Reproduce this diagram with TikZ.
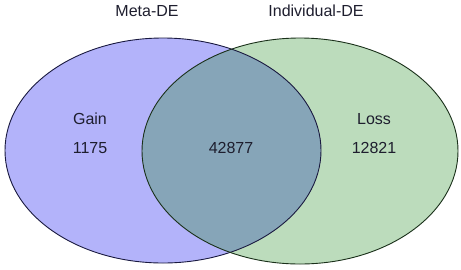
\documentclass[tikz,border=0pt]{standalone}
\usepackage{fontspec}
\setmainfont{Liberation Sans}
\definecolor{leftfill}{HTML}{B3B3FA}
\definecolor{rightfill}{HTML}{BCDCBC}
\definecolor{midfill}{HTML}{86A5B8}
\definecolor{leftline}{HTML}{1A1A40}
\definecolor{rightline}{HTML}{1A301A}
\definecolor{txt}{HTML}{1E1E2E}
\tikzset{lbl/.style={font=\fontsize{16bp}{19bp}\selectfont, text=txt, inner sep=0pt}}
\begin{document}
\begin{tikzpicture}[x=1bp,y=-1bp]
\useasboundingbox (0,0) rectangle (461,269);
\fill[leftfill] (163,150.5) ellipse [x radius=158, y radius=112.5];
\fill[rightfill] (300,151) ellipse [x radius=158, y radius=113];
\begin{scope}
\clip (163,150.5) ellipse [x radius=158, y radius=112.5];
\fill[midfill] (300,151) ellipse [x radius=158, y radius=113];
\end{scope}
\draw[leftline, line width=0.9bp] (163,150.5) ellipse [x radius=158, y radius=112.5];
\draw[rightline, line width=0.9bp] (300,151) ellipse [x radius=158, y radius=113];
\node[lbl] (meta) at (147,11) {Meta-DE};
\node[lbl] (indiv) at (316,11) {Individual-DE};
\node[lbl] (gain) at (90,119) {Gain};
\node[lbl] (gainn) at (90,148) {1175};
\node[lbl] (mid) at (231,148) {42877};
\node[lbl] (loss) at (374,119) {Loss};
\node[lbl] (lossn) at (374,148) {12821};
\end{tikzpicture}
\end{document}
